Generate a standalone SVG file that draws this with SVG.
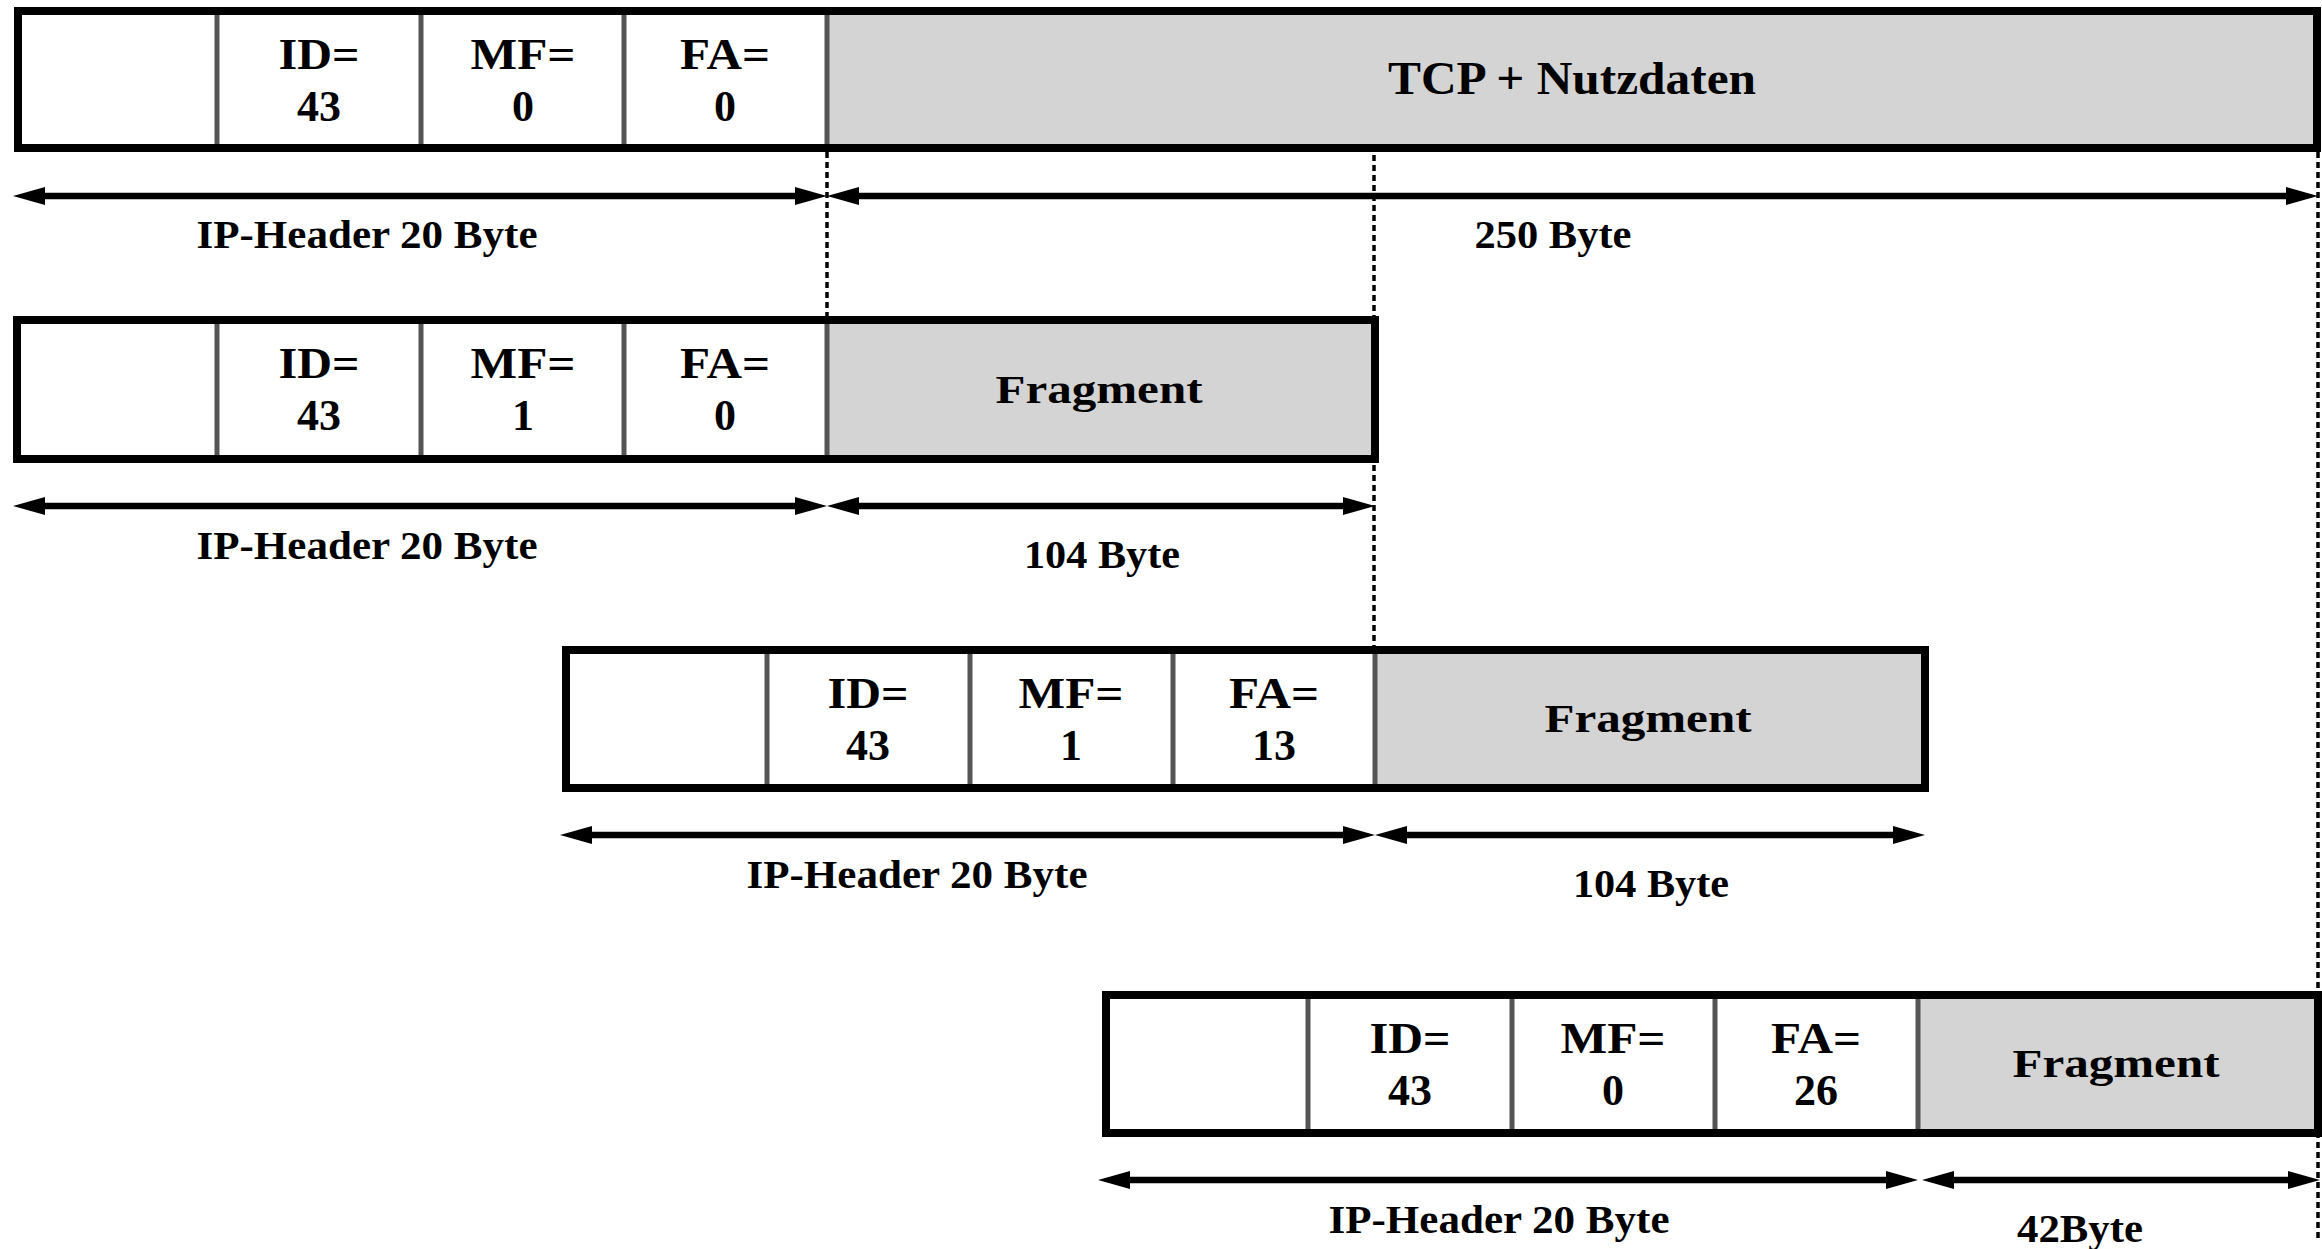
<svg xmlns="http://www.w3.org/2000/svg" width="2322" height="1249" viewBox="0 0 2322 1249">
<style>
.bg{fill:#ffffff;stroke:none}
.data{fill:#d4d4d4;stroke:none}
.frame{fill:none;stroke:#000;stroke-width:8}
.div{stroke:#555;stroke-width:5}
.t{font-family:"Liberation Serif","Times New Roman",serif;font-weight:bold;fill:#000;text-anchor:middle}
.cell{font-size:44px}
.big{font-size:41px}
.lbl{font-size:40px}
.arr{stroke:#000;stroke-width:6.5;fill:none;marker-start:url(#ah);marker-end:url(#ah)}
.dot{stroke:#000;stroke-width:3.5;stroke-dasharray:6 4;fill:none}
</style>
<defs>
<marker id="ah" markerUnits="userSpaceOnUse" viewBox="0 0 32 18" markerWidth="32" markerHeight="18" refX="16" refY="9" orient="auto-start-reverse">
<path d="M0,0 L32,9 L0,18 Z" fill="#000"/>
</marker>
</defs>
<rect x="0" y="0" width="2322" height="1249" fill="#fff"/>

<g id="connectors">
<line class="dot" x1="827" y1="152" x2="827" y2="317"/>
<line class="dot" x1="1374" y1="155" x2="1374" y2="647"/>
<line class="dot" x1="2318" y1="152" x2="2318" y2="1240"/>
<line class="arr" x1="29" y1="196" x2="811" y2="196"/>
<line class="arr" x1="843" y1="196" x2="2302" y2="196"/>
<line class="arr" x1="29" y1="506" x2="811" y2="506"/>
<line class="arr" x1="843" y1="506" x2="1359" y2="506"/>
<line class="arr" x1="576" y1="835" x2="1359" y2="835"/>
<line class="arr" x1="1391" y1="835" x2="1909" y2="835"/>
<line class="arr" x1="1114" y1="1180" x2="1902" y2="1180"/>
<line class="arr" x1="1938" y1="1180" x2="2304" y2="1180"/>
</g>

<g id="packet-original">
<rect class="bg" x="18" y="11" width="809" height="137"/>
<rect class="data" x="827" y="11" width="1490" height="137"/>
<line class="div" x1="217" y1="11" x2="217" y2="148"/>
<line class="div" x1="421" y1="11" x2="421" y2="148"/>
<line class="div" x1="624" y1="11" x2="624" y2="148"/>
<line class="div" x1="827" y1="11" x2="827" y2="148"/>
<rect class="frame" x="18" y="11" width="2299" height="137"/>
<text class="t cell" x="319" y="69" textLength="81" lengthAdjust="spacingAndGlyphs">ID=</text>
<text class="t cell" x="319" y="121">43</text>
<text class="t cell" x="523" y="69" textLength="105" lengthAdjust="spacingAndGlyphs">MF=</text>
<text class="t cell" x="523" y="121">0</text>
<text class="t cell" x="725" y="69" textLength="90" lengthAdjust="spacingAndGlyphs">FA=</text>
<text class="t cell" x="725" y="121">0</text>
<text class="t" style="font-size:46px" x="1572" y="94" textLength="368" lengthAdjust="spacingAndGlyphs">TCP + Nutzdaten</text>
</g>

<g id="fragment-1">
<rect class="bg" x="17" y="320" width="810" height="139"/>
<rect class="data" x="827" y="320" width="548" height="139"/>
<line class="div" x1="217" y1="320" x2="217" y2="459"/>
<line class="div" x1="421" y1="320" x2="421" y2="459"/>
<line class="div" x1="624" y1="320" x2="624" y2="459"/>
<line class="div" x1="827" y1="320" x2="827" y2="459"/>
<rect class="frame" x="17" y="320" width="1358" height="139"/>
<text class="t cell" x="319" y="378" textLength="81" lengthAdjust="spacingAndGlyphs">ID=</text>
<text class="t cell" x="319" y="430">43</text>
<text class="t cell" x="523" y="378" textLength="105" lengthAdjust="spacingAndGlyphs">MF=</text>
<text class="t cell" x="523" y="430">1</text>
<text class="t cell" x="725" y="378" textLength="90" lengthAdjust="spacingAndGlyphs">FA=</text>
<text class="t cell" x="725" y="430">0</text>
<text class="t big" x="1099" y="403" textLength="207" lengthAdjust="spacingAndGlyphs">Fragment</text>
</g>

<g id="fragment-2">
<rect class="bg" x="566" y="650" width="809" height="138"/>
<rect class="data" x="1375" y="650" width="550" height="138"/>
<line class="div" x1="767" y1="650" x2="767" y2="788"/>
<line class="div" x1="970" y1="650" x2="970" y2="788"/>
<line class="div" x1="1173" y1="650" x2="1173" y2="788"/>
<line class="div" x1="1375" y1="650" x2="1375" y2="788"/>
<rect class="frame" x="566" y="650" width="1359" height="138"/>
<text class="t cell" x="868" y="708" textLength="81" lengthAdjust="spacingAndGlyphs">ID=</text>
<text class="t cell" x="868" y="760">43</text>
<text class="t cell" x="1071" y="708" textLength="105" lengthAdjust="spacingAndGlyphs">MF=</text>
<text class="t cell" x="1071" y="760">1</text>
<text class="t cell" x="1274" y="708" textLength="90" lengthAdjust="spacingAndGlyphs">FA=</text>
<text class="t cell" x="1274" y="760">13</text>
<text class="t big" x="1648" y="732" textLength="207" lengthAdjust="spacingAndGlyphs">Fragment</text>
</g>

<g id="fragment-3">
<rect class="bg" x="1106" y="995" width="812" height="138"/>
<rect class="data" x="1918" y="995" width="400" height="138"/>
<line class="div" x1="1308" y1="995" x2="1308" y2="1133"/>
<line class="div" x1="1512" y1="995" x2="1512" y2="1133"/>
<line class="div" x1="1715" y1="995" x2="1715" y2="1133"/>
<line class="div" x1="1918" y1="995" x2="1918" y2="1133"/>
<rect class="frame" x="1106" y="995" width="1212" height="138"/>
<text class="t cell" x="1410" y="1053" textLength="81" lengthAdjust="spacingAndGlyphs">ID=</text>
<text class="t cell" x="1410" y="1105">43</text>
<text class="t cell" x="1613" y="1053" textLength="105" lengthAdjust="spacingAndGlyphs">MF=</text>
<text class="t cell" x="1613" y="1105">0</text>
<text class="t cell" x="1816" y="1053" textLength="90" lengthAdjust="spacingAndGlyphs">FA=</text>
<text class="t cell" x="1816" y="1105">26</text>
<text class="t big" x="2116" y="1077" textLength="207" lengthAdjust="spacingAndGlyphs">Fragment</text>
</g>

<g id="labels">
<text class="t lbl" x="367" y="248" textLength="341" lengthAdjust="spacingAndGlyphs">IP-Header 20 Byte</text>
<text class="t lbl" x="1553" y="248" textLength="157" lengthAdjust="spacingAndGlyphs">250 Byte</text>
<text class="t lbl" x="367" y="559" textLength="341" lengthAdjust="spacingAndGlyphs">IP-Header 20 Byte</text>
<text class="t lbl" x="1102" y="568" textLength="156" lengthAdjust="spacingAndGlyphs">104 Byte</text>
<text class="t lbl" x="917" y="888" textLength="341" lengthAdjust="spacingAndGlyphs">IP-Header 20 Byte</text>
<text class="t lbl" x="1651" y="897" textLength="156" lengthAdjust="spacingAndGlyphs">104 Byte</text>
<text class="t lbl" x="1499" y="1233" textLength="341" lengthAdjust="spacingAndGlyphs">IP-Header 20 Byte</text>
<text class="t lbl" x="2080" y="1242" textLength="126" lengthAdjust="spacingAndGlyphs">42Byte</text>
</g>
</svg>
